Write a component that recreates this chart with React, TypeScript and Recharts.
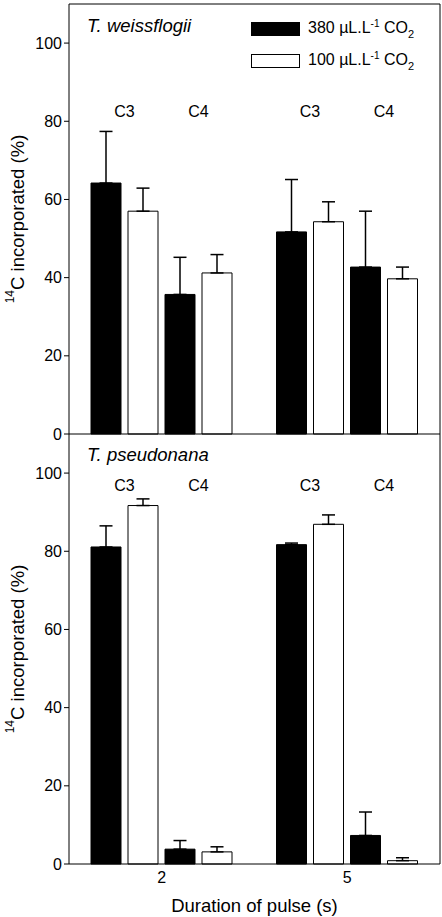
import React from 'react';
import {
  BarChart,
  Bar,
  XAxis,
  YAxis,
  ErrorBar,
  LabelList,
  ReferenceLine,
  Legend,
  Label,
} from 'recharts';

const durations = ['2', '5'];
const yTicks = [0, 20, 40, 60, 80, 100];
const legendOrder = ['380', '100'];

// T. weissflogii (top panel)
const tw380C3 = [64.2, 51.7];
const tw380C3Err = [13.2, 13.4];
const tw100C3 = [57.0, 54.3];
const tw100C3Err = [5.9, 5.1];
const tw380C4 = [35.7, 42.7];
const tw380C4Err = [9.5, 14.3];
const tw100C4 = [41.2, 39.7];
const tw100C4Err = [4.7, 3.0];

// T. pseudonana (bottom panel)
const tp380C3 = [81.1, 81.7];
const tp380C3Err = [5.4, 0.4];
const tp100C3 = [91.7, 86.9];
const tp100C3Err = [1.7, 2.4];
const tp380C4 = [3.8, 7.3];
const tp380C4Err = [2.2, 6.0];
const tp100C4 = [3.1, 0.85];
const tp100C4Err = [1.3, 0.75];

const FONT = '"Liberation Sans", Arial, sans-serif';

function buildRows(
  a: number[], ae: number[], b: number[], be: number[],
  c: number[], ce: number[], e: number[], ee: number[],
) {
  return durations.map((d, i) => ({
    d,
    c3High: a[i], c3HighErr: [0, ae[i]],
    c3Low: b[i], c3LowErr: [0, be[i]],
    c4High: c[i], c4HighErr: [0, ce[i]],
    c4Low: e[i], c4LowErr: [0, ee[i]],
  }));
}

const topRows = buildRows(tw380C3, tw380C3Err, tw100C3, tw100C3Err, tw380C4, tw380C4Err, tw100C4, tw100C4Err);
const bottomRows = buildRows(tp380C3, tp380C3Err, tp100C3, tp100C3Err, tp380C4, tp380C4Err, tp100C4, tp100C4Err);

const BAR = 30;
const GAP = 7;

// group label (C3 / C4) centred over the pair, at a given value level
const groupLabel = (text: string, level: number) => (props: any) => {
  const x = Number(props.x);
  const y = Number(props.y);
  const w = Number(props.width);
  const h = Number(props.height);
  const v = Number(props.value);
  const unit = h / v;
  const zero = y + h;
  return (
    <text
      x={x + w + GAP / 2}
      y={zero - level * unit}
      textAnchor="middle"
      dominantBaseline="central"
      fontSize={16}
      fontFamily={FONT}
      fill="#000"
    >
      {text}
    </text>
  );
};

const yTitle = (props: any) => {
  const vb = props.viewBox || {};
  const cx = 17;
  const cy = vb.y + vb.height / 2;
  return (
    <text
      x={cx}
      y={cy}
      transform={`rotate(-90 ${cx} ${cy})`}
      textAnchor="middle"
      dominantBaseline="central"
      fontSize={18.5}
      fontFamily={FONT}
      fill="#000"
    >
      <tspan fontSize={12} dy={-7}>14</tspan>
      <tspan dy={7}>C incorporated (%)</tspan>
    </text>
  );
};

const xTitle = (props: any) => {
  const vb = props.viewBox || {};
  return (
    <text
      x={vb.x + vb.width / 2}
      y={vb.y + 41}
      textAnchor="middle"
      dominantBaseline="central"
      fontSize={18.5}
      fontFamily={FONT}
      fill="#000"
    >
      Duration of pulse (s)
    </text>
  );
};

function LegendBox({ payload }: any) {
  const items = (payload || [])
    .filter((p: any) => p.type !== 'none')
    .sort((a: any, b: any) => legendOrder.indexOf(a.value) - legendOrder.indexOf(b.value));
  return (
    <div style={{ fontFamily: FONT, fontSize: 16 }}>
      {items.map((p: any, i: number) => (
        <div key={i} style={{ display: 'flex', alignItems: 'center', height: 32 }}>
          <span
            style={{
              display: 'inline-block',
              width: 47,
              height: 12,
              background: p.payload.fill,
              border: '1px solid #000',
              marginRight: 8,
            }}
          />
          <span>
            {p.value} µL.L<sup style={{ fontSize: 10 }}>-1</sup> CO<sub style={{ fontSize: 11 }}>2</sub>
          </span>
        </div>
      ))}
    </div>
  );
}

function Panel({
  rows,
  title,
  top,
  height,
  bottom,
  showX,
  labelLevel,
  showLegend,
}: {
  rows: any[];
  title: string;
  top: number;
  height: number;
  bottom: number;
  showX: boolean;
  labelLevel: number;
  showLegend: boolean;
}) {
  return (
    <div style={{ position: 'absolute', left: 0, top, width: 442, height }}>
      <BarChart
        width={442}
        height={height}
        data={rows}
        margin={{ top: 4, right: 2, bottom, left: 0 }}
        barSize={BAR}
        barGap={GAP}
      >
        <XAxis
          dataKey="d"
          hide={!showX}
          height={50}
          tickLine={false}
          axisLine={{ stroke: '#000' }}
          tick={{ fill: '#000', fontSize: 16, fontFamily: FONT }}
        >
          {showX && <Label content={xTitle} />}
        </XAxis>
        <YAxis
          yAxisId="left"
          width={69}
          domain={[0, 110]}
          ticks={yTicks}
          interval={0}
          tickSize={5}
          axisLine={{ stroke: '#000' }}
          tickLine={{ stroke: '#000' }}
          tick={{ fill: '#000', fontSize: 16, fontFamily: FONT }}
        >
          <Label content={yTitle} />
        </YAxis>
        <YAxis
          yAxisId="right"
          orientation="right"
          width={1}
          mirror
          domain={[0, 110]}
          ticks={yTicks}
          interval={0}
          tickSize={5}
          tick={false}
          axisLine={{ stroke: '#000' }}
          tickLine={{ stroke: '#000' }}
        />
        <ReferenceLine yAxisId="left" y={110} stroke="#000" />
        {showLegend && (
          <Legend
            layout="vertical"
            align="center"
            verticalAlign="middle"
            content={<LegendBox />}
            wrapperStyle={{ top: 13, left: 251, width: 'auto' }}
          />
        )}
        <Bar yAxisId="left" dataKey="c3High" name="380" fill="#000" stroke="#000" isAnimationActive={false}>
          <ErrorBar dataKey="c3HighErr" width={6.5} stroke="#000" strokeWidth={1.5} />
          <LabelList dataKey="c3High" content={groupLabel('C3', labelLevel)} />
        </Bar>
        <Bar yAxisId="left" dataKey="c3Low" name="100" fill="#fff" stroke="#000" isAnimationActive={false}>
          <ErrorBar dataKey="c3LowErr" width={6.5} stroke="#000" strokeWidth={1.5} />
        </Bar>
        <Bar yAxisId="left" dataKey="c4High" legendType="none" fill="#000" stroke="#000" isAnimationActive={false}>
          <ErrorBar dataKey="c4HighErr" width={6.5} stroke="#000" strokeWidth={1.5} />
          <LabelList dataKey="c4High" content={groupLabel('C4', labelLevel)} />
        </Bar>
        <Bar yAxisId="left" dataKey="c4Low" legendType="none" fill="#fff" stroke="#000" isAnimationActive={false}>
          <ErrorBar dataKey="c4LowErr" width={6.5} stroke="#000" strokeWidth={1.5} />
        </Bar>
      </BarChart>
      <div
        style={{
          position: 'absolute',
          left: 87,
          top: showX ? 12 : 13,
          fontFamily: FONT,
          fontStyle: 'italic',
          fontSize: 18.5,
          lineHeight: '26px',
        }}
      >
        {title}
      </div>
    </div>
  );
}

export default function App() {
  return (
    <div style={{ position: 'absolute', left: 0, top: 0, width: 442, height: 917, background: '#fff' }}>
      <Panel rows={topRows} title="T. weissflogii" top={0} height={450} bottom={16} showX={false} labelLevel={82.5} showLegend />
      <Panel rows={bottomRows} title="T. pseudonana" top={430} height={487} bottom={3} showX labelLevel={96.7} showLegend={false} />
    </div>
  );
}
